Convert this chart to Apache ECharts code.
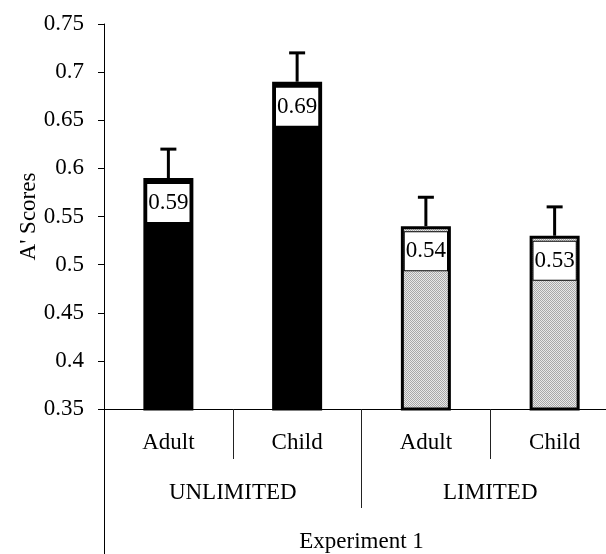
<!DOCTYPE html>
<html>
<head>
<meta charset="utf-8">
<script src="https://cdn.jsdelivr.net/npm/echarts@6/dist/echarts.min.js"></script>
<style>
html,body{margin:0;padding:0;background:#fff;}
#chart{width:606px;height:554px;}
</style>
</head>
<body>
<div id="chart"></div>
<script>
// ---- data ----
const groupLabels = ['Adult', 'Child', 'Adult', 'Child'];
const conditionLabels = ['UNLIMITED', 'LIMITED'];
const experimentLabels = ['Experiment 1'];
const scores = [0.59, 0.69, 0.54, 0.53];
const upperErr = [0.62, 0.72, 0.57, 0.56];
const yTicks = { min: 0.35, max: 0.75, step: 0.05 };
const yName = "A' Scores";

// ---- styles ----
const FONT = "'Liberation Serif', 'Times New Roman', serif";
const FS = 23;
function makePattern() {
  const c = document.createElement('canvas');
  c.width = 2; c.height = 2;
  const g = c.getContext('2d');
  g.fillStyle = '#e8e8e8'; g.fillRect(0, 0, 2, 2);
  g.fillStyle = '#a8a8a8'; g.fillRect(0, 0, 1, 1); g.fillRect(1, 1, 1, 1);
  return c;
}
const greyFill = { image: makePattern(), repeat: 'repeat' };

const chart = echarts.init(document.getElementById('chart'), null, { renderer: 'canvas' });

const barData = scores.map((v, i) => ({
  value: v,
  itemStyle: i < 2
    ? { color: '#000', borderColor: '#000', borderWidth: 3 }
    : { color: greyFill, borderColor: '#000', borderWidth: 3 }
}));

const errData = scores.map((v, i) => [i, v, upperErr[i]]);

const option = {
  animation: false,
  backgroundColor: '#fff',
  textStyle: { fontFamily: FONT },
  grid: { left: 104, top: 24, bottom: 145, width: 515, containLabel: false, outerBoundsMode: 'none' },
  xAxis: [
    {
      type: 'category', data: groupLabels, position: 'bottom', gridIndex: 0,
      axisLine: { show: true, lineStyle: { color: '#000', width: 1 } },
      axisTick: { show: true, interval: 0, length: 50, lineStyle: { color: '#222', width: 1 } },
      axisLabel: { interval: 0, margin: 22, fontSize: FS, color: '#000', fontFamily: FONT },
      splitLine: { show: false }
    },
    {
      type: 'category', data: conditionLabels, position: 'bottom', gridIndex: 0,
      min: 0, max: conditionLabels.length - 1,
      axisLine: { show: false },
      axisTick: { show: true, interval: 0, length: 99, lineStyle: { color: '#222', width: 1 } },
      axisLabel: { interval: 0, margin: 72, fontSize: FS, color: '#000', fontFamily: FONT },
      splitLine: { show: false }
    },
    {
      type: 'category', data: experimentLabels, position: 'bottom', gridIndex: 0,
      min: 0, max: experimentLabels.length - 1,
      axisLine: { show: false },
      axisTick: { show: true, interval: 0, length: 150, lineStyle: { color: '#000', width: 1 } },
      axisLabel: { interval: 0, margin: 121, fontSize: FS, color: '#000', fontFamily: FONT },
      splitLine: { show: false }
    }
  ],
  yAxis: {
    type: 'value', min: yTicks.min, max: yTicks.max, interval: yTicks.step,
    name: yName, nameLocation: 'middle', nameRotate: 90, nameGap: 64, nameMoveOverlap: false,
    nameTextStyle: { fontSize: FS, color: '#000', fontFamily: FONT },
    axisLine: { show: true, lineStyle: { color: '#000', width: 1 } },
    axisTick: { show: true, inside: false, length: 6, lineStyle: { color: '#000', width: 1 } },
    axisLabel: { margin: 20, fontSize: FS, color: '#000', fontFamily: FONT },
    splitLine: { show: false }
  },
  series: [
    {
      type: 'bar', xAxisIndex: 0, data: barData, barWidth: 50,
      label: {
        show: true, position: 'insideTop', distance: 6,
        formatter: p => p.value.toFixed(2),
        fontSize: FS, fontFamily: FONT, color: '#000',
        backgroundColor: '#fff', borderColor: '#000', borderWidth: 1,
        padding: [8, 1, 8, 1], lineHeight: 22
      },
      z: 2
    },
    {
      type: 'custom', xAxisIndex: 0, data: errData, z: 3,
      renderItem: (params, api) => {
        const x = api.value(0);
        const top = api.coord([x, api.value(2)]);
        const bot = api.coord([x, api.value(1)]);
        const hw = 8;
        return {
          type: 'group',
          children: [
            { type: 'line', shape: { x1: top[0], y1: top[1], x2: bot[0], y2: bot[1] }, style: { stroke: '#000', lineWidth: 3 } },
            { type: 'line', shape: { x1: top[0] - hw, y1: top[1], x2: top[0] + hw, y2: top[1] }, style: { stroke: '#000', lineWidth: 3 } }
          ]
        };
      }
    }
  ]
};
chart.setOption(option);
</script>
</body>
</html>
